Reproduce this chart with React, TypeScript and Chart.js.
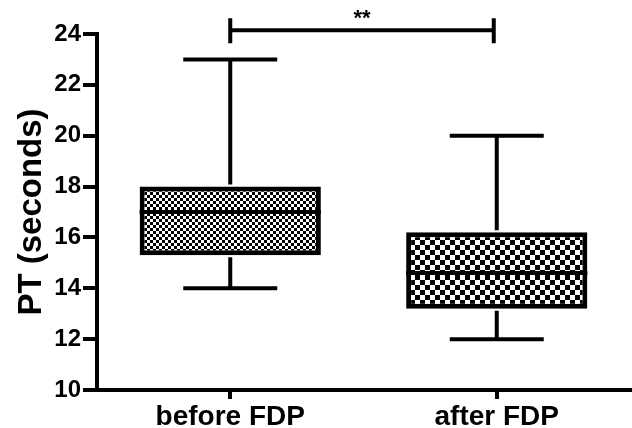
import React, { useEffect, useRef } from "react";
import { Chart, registerables } from "chart.js";

Chart.register(...registerables);

const categories = ["before FDP", "after FDP"];
const minValues = [14, 12];
const q1Values = [15.3, 13.2];
const medianValues = [17, 14.6];
const q3Values = [18, 16.2];
const maxValues = [23, 20];
const yMin = 10;
const yMax = 24;
const yStep = 2;
const significance = "**";
const bracketValue = 24.15;
const patternCells = [3, 5];

function makePattern(cell: number): CanvasPattern | string {
  const c = document.createElement("canvas");
  c.width = cell * 2;
  c.height = cell * 2;
  const g = c.getContext("2d");
  if (!g) return "#888";
  g.fillStyle = "#fff";
  g.fillRect(0, 0, cell * 2, cell * 2);
  g.fillStyle = "#000";
  g.fillRect(0, 0, cell, cell);
  g.fillRect(cell, cell, cell, cell);
  const p = g.createPattern(c, "repeat");
  return p || "#888";
}

const boxPlugin = {
  id: "boxExtras",
  afterDatasetsDraw(chart: any) {
    const { ctx, scales } = chart;
    const x = scales.x;
    const y = scales.y;
    const meta = chart.getDatasetMeta(0);
    ctx.save();
    ctx.strokeStyle = "#000";
    ctx.lineCap = "butt";
    categories.forEach((_, i) => {
      const bar = meta.data[i];
      const cx = x.getPixelForValue(i);
      const half = bar.width / 2;
      const capHalf = 47;
      const yMinP = y.getPixelForValue(minValues[i]);
      const yMaxP = y.getPixelForValue(maxValues[i]);
      const yQ1 = y.getPixelForValue(q1Values[i]);
      const yQ3 = y.getPixelForValue(q3Values[i]);
      const yMed = y.getPixelForValue(medianValues[i]);
      ctx.lineWidth = 4;
      ctx.beginPath();
      ctx.moveTo(cx, yQ3 - 2);
      ctx.lineTo(cx, yMaxP);
      ctx.moveTo(cx, yQ1 + 2);
      ctx.lineTo(cx, yMinP);
      ctx.moveTo(cx - capHalf, yMaxP);
      ctx.lineTo(cx + capHalf, yMaxP);
      ctx.moveTo(cx - capHalf, yMinP);
      ctx.lineTo(cx + capHalf, yMinP);
      ctx.moveTo(cx - half, yMed);
      ctx.lineTo(cx + half, yMed);
      ctx.stroke();
    });
    // significance bracket
    const x0 = x.getPixelForValue(0);
    const x1 = x.getPixelForValue(1) - 3;
    const by = y.getPixelForValue(bracketValue);
    ctx.lineWidth = 4;
    ctx.beginPath();
    ctx.moveTo(x0, by);
    ctx.lineTo(x1, by);
    ctx.moveTo(x0, by - 12);
    ctx.lineTo(x0, by + 13);
    ctx.moveTo(x1, by - 12);
    ctx.lineTo(x1, by + 13);
    ctx.stroke();
    ctx.fillStyle = "#000";
    ctx.font = "bold 22px 'Liberation Sans', Arial, sans-serif";
    ctx.textAlign = "center";
    ctx.textBaseline = "middle";
    ctx.fillText(significance, (x0 + x1) / 2, by - 11);
    ctx.restore();
  },
};

export default function App() {
  const ref = useRef<HTMLCanvasElement | null>(null);
  useEffect(() => {
    document.body.style.margin = "0";
    if (!ref.current) return;
    const patterns = patternCells.map((c) => makePattern(c));
    const chart = new Chart(ref.current, {
      type: "bar",
      data: {
        labels: categories,
        datasets: [
          {
            data: categories.map((_, i) => [q1Values[i], q3Values[i]]) as any,
            backgroundColor: patterns as any,
            borderColor: "#000",
            borderWidth: 5,
            borderSkipped: false,
            barPercentage: 0.68,
            categoryPercentage: 1,
          },
        ],
      },
      options: {
        animation: false,
        responsive: false,
        layout: { padding: { top: 34, right: 2, left: 0, bottom: 0 } },
        plugins: { legend: { display: false }, tooltip: { enabled: false } },
        scales: {
          x: {
            offset: true,
            grid: {
              offset: false,
              drawOnChartArea: false,
              drawTicks: true,
              tickLength: 9,
              lineWidth: 4,
              color: "#000",
            },
            border: { display: true, width: 4, color: "#000" },
            ticks: {
              color: "#000",
              padding: 1,
              font: { family: "'Liberation Sans', Arial, sans-serif", size: 28, weight: "bold" },
            },
            afterFit: (s: any) => {
              s.height = 38;
            },
          },
          y: {
            min: yMin,
            max: yMax,
            ticks: {
              stepSize: yStep,
              color: "#000",
              padding: 2,
              font: { family: "'Liberation Sans', Arial, sans-serif", size: 24, weight: "bold" },
            },
            grid: {
              drawOnChartArea: false,
              drawTicks: true,
              tickLength: 14,
              lineWidth: 4,
              color: "#000",
            },
            border: { display: true, width: 4, color: "#000" },
            title: {
              display: true,
              text: "PT (seconds)",
              color: "#000",
              padding: { top: 12, bottom: 0 },
              font: { family: "'Liberation Sans', Arial, sans-serif", size: 33, weight: "bold" },
            },
            afterFit: (s: any) => {
              s.width = 97;
            },
          },
        },
      },
      plugins: [boxPlugin],
    });
    return () => chart.destroy();
  }, []);
  return <canvas ref={ref} width={632} height={428} style={{ display: "block" }} />;
}
